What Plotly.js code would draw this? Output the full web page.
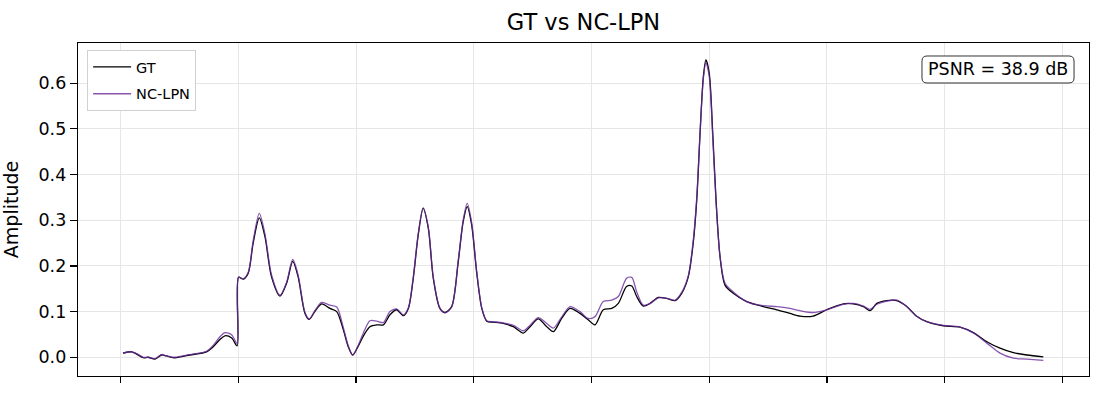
<!DOCTYPE html>
<html>
<head>
<meta charset="utf-8">
<script src="https://cdn.plot.ly/plotly-3.0.1.min.js"></script>
<style>html,body{margin:0;padding:0;background:#fff;}#chart{width:1098px;height:400px;}</style>
</head>
<body>
<div id="chart"></div>
<script>
const sampleX = [1, 4.7, 6.8, 9.6, 11.7, 14.6, 17.4, 19.5, 23.1, 29.4,
  36.5, 39.3, 42.2, 44.3, 47.2, 49.5, 50.1, 52.1, 54.2, 56.3,
  58.9, 61.3, 64.1, 67.7, 70.5, 73.1, 75.4, 78.3, 80.1, 82.5,
  85.4, 88.9, 91.8, 94.6, 96.7, 98.6, 101, 103.5, 105.9, 108.8,
  111.6, 114.4, 117.2, 120.1, 122.2, 124.3, 126.4, 128.5, 130.7, 132.8,
  135.6, 137.8, 140.6, 143.4, 145.5, 147.2, 149.1, 151.2, 153.4, 155.5,
  158.3, 162.5, 166.8, 171.0, 173.9, 177.4, 181.0, 183.8, 187.3, 190.9,
  195.1, 198.6, 201.5, 205.0, 208.6, 211.4, 214.9, 217.1, 219.2, 222.0,
  224.9, 228.4, 231.9, 235.5, 238.3, 241.1, 243.2, 244.7, 246.1, 247.5,
  248.6, 250.0, 251.5, 252.9, 254.6, 256.7, 260.2, 265.9, 273.0, 278.7,
  284.3, 288.6, 294.1, 299.9, 307.0, 311.2, 315.5, 318.3, 321.2, 325.4,
  329.7, 333.9, 338.1, 342.4, 349.4, 356.5, 362.2, 367.9, 373.5, 379.2,
  384.9, 391.9];

const gtValues = [0.009, 0.012, 0.007, -0.001, 0.0, -0.004, 0.005, 0.003, -0.001, 0.005,
  0.012, 0.023, 0.039, 0.047, 0.042, 0.025, 0.175, 0.171, 0.184, 0.25,
  0.305, 0.264, 0.176, 0.134, 0.162, 0.21, 0.176, 0.096, 0.083, 0.1,
  0.117, 0.107, 0.1, 0.06, 0.023, 0.005, 0.025, 0.05, 0.067, 0.071,
  0.071, 0.093, 0.104, 0.091, 0.107, 0.173, 0.268, 0.326, 0.282, 0.173,
  0.107, 0.098, 0.111, 0.209, 0.297, 0.33, 0.29, 0.187, 0.107, 0.079,
  0.077, 0.074, 0.067, 0.053, 0.067, 0.084, 0.067, 0.056, 0.085, 0.107,
  0.096, 0.082, 0.071, 0.104, 0.107, 0.118, 0.155, 0.156, 0.133, 0.112,
  0.118, 0.131, 0.129, 0.124, 0.14, 0.176, 0.25, 0.344, 0.49, 0.614,
  0.651, 0.622, 0.49, 0.344, 0.22, 0.158, 0.14, 0.122, 0.111, 0.104,
  0.096, 0.09, 0.09, 0.104, 0.117, 0.117, 0.111, 0.102, 0.118, 0.124,
  0.124, 0.111, 0.09, 0.078, 0.069, 0.066, 0.054, 0.034, 0.02, 0.01,
  0.005, 0.001];

const ncLpnValues = [0.009, 0.012, 0.008, 0.0, 0.0, -0.003, 0.006, 0.003, 0.0, 0.006,
  0.013, 0.026, 0.045, 0.054, 0.049, 0.03, 0.175, 0.172, 0.186, 0.255,
  0.315, 0.27, 0.18, 0.136, 0.164, 0.214, 0.18, 0.098, 0.084, 0.102,
  0.12, 0.114, 0.11, 0.065, 0.025, 0.005, 0.027, 0.058, 0.08, 0.079,
  0.076, 0.1, 0.106, 0.093, 0.108, 0.175, 0.27, 0.327, 0.284, 0.175,
  0.108, 0.097, 0.11, 0.212, 0.3, 0.337, 0.295, 0.19, 0.108, 0.08,
  0.078, 0.075, 0.07, 0.058, 0.07, 0.087, 0.074, 0.064, 0.088, 0.111,
  0.1, 0.085, 0.089, 0.122, 0.125, 0.133, 0.173, 0.175, 0.143, 0.114,
  0.118, 0.13, 0.129, 0.125, 0.142, 0.178, 0.255, 0.35, 0.49, 0.61,
  0.645, 0.615, 0.48, 0.34, 0.22, 0.162, 0.143, 0.122, 0.113, 0.111,
  0.107, 0.102, 0.098, 0.104, 0.116, 0.118, 0.112, 0.105, 0.116, 0.123,
  0.125, 0.111, 0.09, 0.078, 0.07, 0.066, 0.053, 0.031, 0.009, -0.002,
  -0.004, -0.007];

const xTickVals = [0, 50, 100, 150, 200, 250, 300, 350, 400];
const yTickVals = [0.0, 0.1, 0.2, 0.3, 0.4, 0.5, 0.6];
const seriesNames = ['GT', 'NC-LPN'];
const titleText = 'GT vs NC-LPN';
const yLabel = 'Amplitude';
const psnrText = 'PSNR = 38.9 dB';

const FONT = 'DejaVu Sans, sans-serif';

const traces = [
  {x: sampleX, y: gtValues, name: seriesNames[0], type: 'scatter', mode: 'lines', legendgroup: 'g1',
   line: {color: '#000000', width: 1.3, shape: 'spline', smoothing: 0.8}},
  {x: sampleX, y: ncLpnValues, name: seriesNames[1], type: 'scatter', mode: 'lines', legendgroup: 'g2',
   line: {color: 'rgba(106,44,158,0.8)', width: 1.3, shape: 'spline', smoothing: 0.8}}
];

// rounded box behind the PSNR text (paper coordinates)
const bx0 = 0.8348, bx1 = 0.9852, by0 = 0.8799, by1 = 0.961, rx = 0.005, ry = 0.015;
const boxPath = `M ${bx0+rx},${by1} L ${bx1-rx},${by1} Q ${bx1},${by1} ${bx1},${by1-ry} ` +
  `L ${bx1},${by0+ry} Q ${bx1},${by0} ${bx1-rx},${by0} L ${bx0+rx},${by0} Q ${bx0},${by0} ${bx0},${by0+ry} ` +
  `L ${bx0},${by1-ry} Q ${bx0},${by1} ${bx0+rx},${by1} Z`;

const layout = {
  width: 1098, height: 400,
  margin: {l: 78, r: 9, t: 43, b: 24},
  paper_bgcolor: '#ffffff', plot_bgcolor: '#ffffff',
  font: {family: FONT, color: '#000000', size: 17.5},
  title: {text: titleText, font: {family: FONT, size: 22.5, color: '#000'},
    xref: 'paper', x: 0.5, xanchor: 'center',
    yref: 'container', y: 0.945, yanchor: 'middle'},
  showlegend: true,
  legend: {x: 0.009, y: 0.979, xanchor: 'left', yanchor: 'top', bgcolor: '#ffffff',
    bordercolor: '#d0d0d0', borderwidth: 1, traceorder: 'grouped', tracegroupgap: 5,
    itemwidth: 38, font: {family: FONT, size: 14.5, color: '#000'}},
  xaxis: {range: [-18.1, 411.3], tickvals: xTickVals, showticklabels: false,
    ticks: 'outside', ticklen: 6, tickwidth: 1.2, tickcolor: '#000',
    showgrid: true, gridcolor: '#e6e6e6', gridwidth: 1, zeroline: false,
    showline: true, linecolor: '#000', linewidth: 1.2, mirror: true},
  yaxis: {range: [-0.041, 0.688], tickvals: yTickVals, tickformat: '.1f',
    ticks: 'outside', ticklen: 7, tickwidth: 1.2, tickcolor: '#000',
    tickfont: {family: FONT, size: 17.5, color: '#000'},
    showgrid: true, gridcolor: '#e6e6e6', gridwidth: 1, zeroline: false,
    showline: true, linecolor: '#000', linewidth: 1.2, mirror: true,
    title: {text: yLabel, font: {family: FONT, size: 19, color: '#000'}, standoff: 14}},
  shapes: [{type: 'path', xref: 'paper', yref: 'paper', path: boxPath,
    fillcolor: '#ffffff', line: {color: '#333333', width: 1}, layer: 'above'}],
  annotations: [{text: psnrText, xref: 'paper', yref: 'paper', x: (bx0+bx1)/2, y: (by0+by1)/2,
    xanchor: 'center', yanchor: 'middle', showarrow: false,
    font: {family: FONT, size: 17.5, color: '#000'}}]
};

Plotly.newPlot('chart', traces, layout, {displayModeBar: false, staticPlot: true});
</script>
</body>
</html>
